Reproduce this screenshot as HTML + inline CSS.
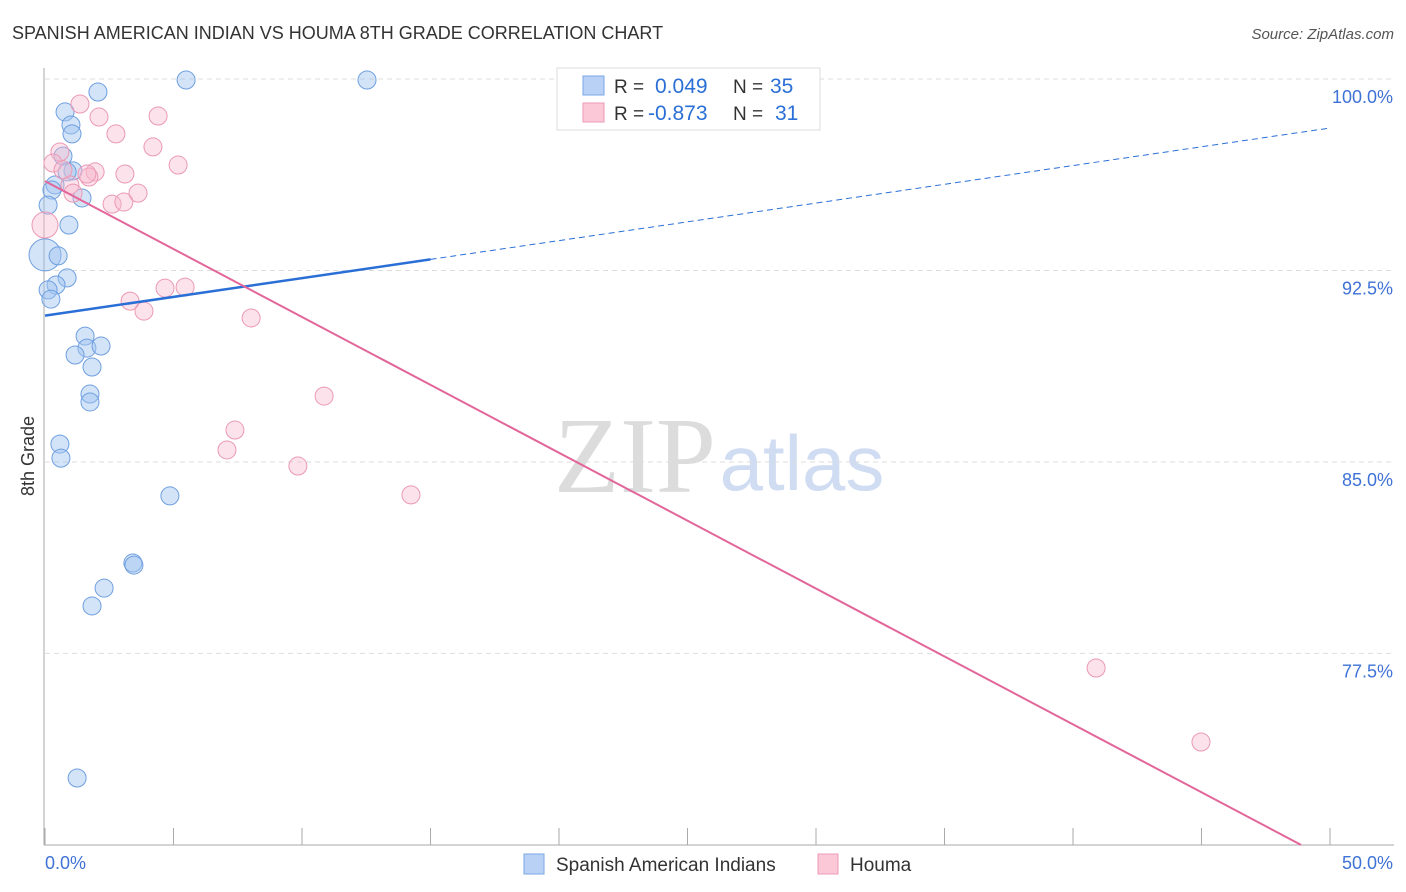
<!DOCTYPE html>
<html><head><meta charset="utf-8"><style>
body{margin:0;background:#fff;font-family:"Liberation Sans",sans-serif}
#c{position:absolute;left:0;top:0}
</style></head><body>
<svg id="c" width="1406" height="892"></svg>
<script>
const blueX=[2.06,5.49,12.53,0.78,1.01,1.05,0.70,1.09,0.86,0.39,0.27,1.44,0.12,0.93,0,0.51,0.86,0.43,0.12,0.23,1.56,1.63,2.18,1.17,1.83,1.75,1.75,0.58,0.62,4.86,3.42,3.46,2.30,1.83,1.25];
const blueY=[99.49,99.96,99.96,98.71,98.20,97.85,96.98,96.40,96.36,95.85,95.65,95.34,95.06,94.28,93.11,93.07,92.21,91.93,91.74,91.38,89.93,89.46,89.54,89.19,88.72,87.66,87.35,85.70,85.15,83.67,81.04,80.96,80.06,79.36,72.62];
const blueR=[9,9,9,9,9,9,9,9,9,9,9,9,9,9,16,9,9,9,9,9,9,9,9,9,9,9,9,9,9,9,9,9,9,9,9];
const pinkX=[1.36,4.40,2.10,2.76,4.20,0.58,5.18,0.31,1.95,1.71,3.11,0.97,1.09,3.62,2.61,3.07,0,3.31,4.67,5.45,3.85,8.02,10.86,7.39,7.08,9.84,14.24,40.90,44.98,1.63,0.70];
const pinkY=[99.02,98.55,98.51,97.85,97.34,97.14,96.63,96.71,96.36,96.16,96.28,95.85,95.53,95.53,95.10,95.18,94.28,91.30,91.81,91.85,90.91,90.64,87.58,86.25,85.47,84.84,83.71,76.93,74.03,96.28,96.44];
const pinkR=[9,9,9,9,9,9,9,9,9,9,9,9,9,9,9,9,13,9,9,9,9,9,9,9,9,9,9,9,9,9,9];
const blueFit=[90.73,0.147];
const pinkFit=[96.0,-0.532];
const yTicks=[100,92.5,85,77.5];
const yTickLabels=["100.0%","92.5%","85.0%","77.5%"];
const NS="http://www.w3.org/2000/svg";
const svg=document.getElementById('c');
const sx=v=>45+v/50*1285;
const sy=v=>79+(100-v)*25.53;
function el(t,a,txt){const e=document.createElementNS(NS,t);for(const k in a)e.setAttribute(k,a[k]);if(txt!==undefined)e.textContent=txt;svg.appendChild(e);return e;}
let e;
e=el('text',{x:12,y:39,'font-size':18,fill:'#333'},'SPANISH AMERICAN INDIAN VS HOUMA 8TH GRADE CORRELATION CHART');


e=el('text',{x:1394,y:39,'font-size':15,fill:'#555','text-anchor':'end','font-style':'italic'},'Source: ZipAtlas.com');


e=el('text',{x:635,y:492,'font-size':108,fill:'#dcdcdc','font-family':'Liberation Serif,serif','text-anchor':'middle'},'ZIP');


e=el('text',{x:802,y:490,'font-size':78,fill:'#cfdcf2','text-anchor':'middle'},'atlas');


yTicks.forEach((t,i)=>{
 e=el('line',{x1:45,x2:1394,y1:sy(t),y2:sy(t),stroke:'#ddd','stroke-dasharray':'5,4'});
 
 
 e=el('text',{x:1393,y:sy(t)+24,'font-size':18,fill:'#3f72d6','text-anchor':'end'},yTickLabels[i]);
 
 
});
e=el('line',{x1:44,x2:44,y1:68,y2:845,stroke:'#aaa'});


e=el('line',{x1:44,x2:1394,y1:845,y2:845,stroke:'#aaa'});


for(let i=0;i<=10;i++){
 e=el('line',{x1:sx(i*5),x2:sx(i*5),y1:828,y2:845,stroke:'#aaa'});
 
 
}
e=el('text',{x:45,y:869,'font-size':18,fill:'#3f72d6'},'0.0%');


e=el('text',{x:1393,y:869,'font-size':18,fill:'#3f72d6','text-anchor':'end'},'50.0%');


e=el('text',{x:34,y:456,'font-size':18,fill:'#333','text-anchor':'middle',transform:'rotate(-90 34 456)'},'8th Grade');


blueX.forEach((x,i)=>{
 e=el('circle',{cx:sx(x),cy:sy(blueY[i]),r:blueR[i],fill:'rgba(160,195,240,0.45)',stroke:'#6f9fe0','stroke-width':1});
 
 
});
pinkX.forEach((x,i)=>{
 e=el('circle',{cx:sx(x),cy:sy(pinkY[i]),r:pinkR[i],fill:'rgba(248,185,205,0.4)',stroke:'#eb99b4','stroke-width':1});
 
 
});
e=el('line',{x1:sx(0),y1:sy(blueFit[0]),x2:sx(15),y2:sy(blueFit[0]+blueFit[1]*15),stroke:'#2a6fd6','stroke-width':2.5});


e=el('line',{x1:sx(15),y1:sy(blueFit[0]+blueFit[1]*15),x2:sx(50),y2:sy(blueFit[0]+blueFit[1]*50),stroke:'#2a6fd6','stroke-width':1,'stroke-dasharray':'6,4'});


const pxEnd=(70-pinkFit[0])/pinkFit[1];
e=el('line',{x1:sx(0),y1:sy(pinkFit[0]),x2:sx(pxEnd),y2:sy(70),stroke:'#e2669a','stroke-width':2});


e=el('rect',{x:557,y:68,width:263,height:62,fill:'#fff',stroke:'#ddd'});


e=el('rect',{x:583,y:76,width:21,height:19,fill:'#b9d1f5',stroke:'#7aa6e6'});


e=el('rect',{x:583,y:103,width:21,height:19,fill:'#fbc8d8',stroke:'#eb99b4'});


const lt=[[614,93,'R = ','#333',19],[655,93,'0.049','#2a6fd6',21],[733,93,'N = ','#333',19],[770,93,'35','#2a6fd6',21],[614,120,'R = ','#333',19],[648,120,'-0.873','#2a6fd6',21],[733,120,'N = ','#333',19],[775,120,'31','#2a6fd6',21]];
lt.forEach(a=>{e=el('text',{x:a[0],y:a[1],'font-size':a[4],fill:a[3]},a[2]);
 
 });
e=el('rect',{x:524,y:854,width:20,height:20,fill:'#b9d1f5',stroke:'#7aa6e6'});


e=el('text',{x:556,y:871,'font-size':19,fill:'#333'},'Spanish American Indians');


e=el('rect',{x:818,y:854,width:20,height:20,fill:'#fbc8d8',stroke:'#eb99b4'});


e=el('text',{x:850,y:871,'font-size':19,fill:'#333'},'Houma');


</script>
</body></html>
